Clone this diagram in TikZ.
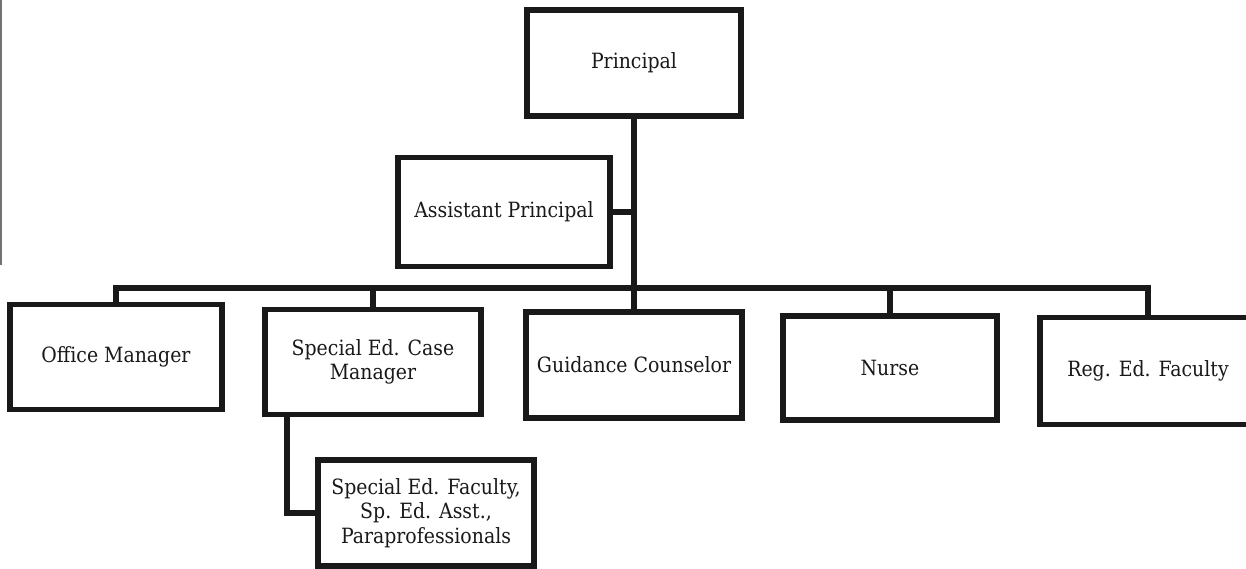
\documentclass[tikz,border=0pt]{standalone}
\usepackage{fontspec}
\setmainfont{DejaVu Serif Condensed}
\begin{document}
\begin{tikzpicture}[x=1pt,y=-1pt,
  box/.style={draw=black!90, line width=5.5pt, minimum width=#1, align=center,
    font=\fontsize{21}{24.5}\selectfont, text=black!90, inner sep=0pt},
  conn/.style={draw=black!90, line width=5.5pt}]
\useasboundingbox (0,0) rectangle (1246,568);
\fill[white] (0,0) rectangle (1246,568);
\draw[black!55, line width=1.5pt] (0.75,0) -- (0.75,265);
% nodes
\node[box=214pt, minimum height=106pt] (principal) at (634,63) {Principal};
\node[box=212pt, minimum height=109pt] (ap) at (504,212) {Assistant Principal};
\node[box=212pt, minimum height=105pt] (office) at (116,357) {Office Manager};
\node[box=216pt, minimum height=105pt] (sped) at (373,362) {Special Ed. Case\\Manager};
\node[box=216pt, minimum height=106pt] (guid) at (634,365) {Guidance Counselor};
\node[box=214pt, minimum height=104pt] (nurse) at (890,368) {Nurse};
\node[box=216pt, minimum height=107pt] (reg) at (1148,371) {Reg. Ed. Faculty};
\node[box=216pt, minimum height=106pt] (spfac) at (426,513) {Special Ed. Faculty,\\Sp. Ed. Asst.,\\Paraprofessionals};
% connectors
\coordinate (bus) at (116,288);
\draw[conn] (principal.south) -- (guid.north);
\draw[conn] (ap.east) -- (ap.east -| principal.south);
\draw[conn] (office.north) -- (office.north |- bus) -- (reg.north |- bus) -- (reg.north);
\draw[conn] (sped.north) -- (sped.north |- bus);
\draw[conn] (nurse.north) -- (nurse.north |- bus);
\draw[conn] ([xshift=-86pt]sped.south) |- (spfac.west);
\end{tikzpicture}
\end{document}
